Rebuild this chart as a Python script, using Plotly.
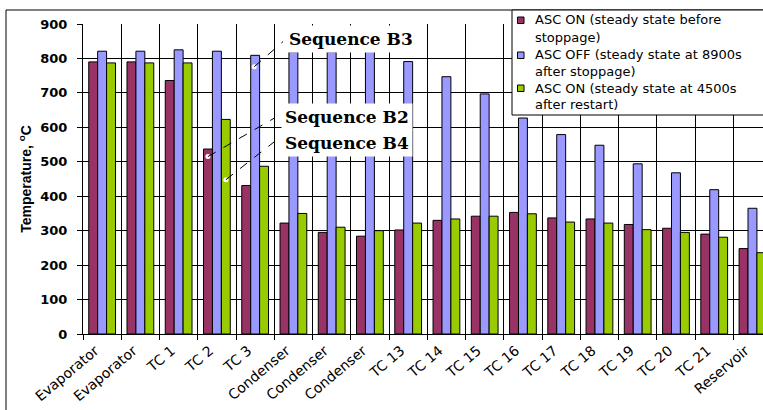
import plotly.graph_objects as go

# Measurement locations along the loop
locations = ["Evaporator", "Evaporator", "TC 1", "TC 2", "TC 3", "Condenser", "Condenser",
             "Condenser", "TC 13", "TC 14", "TC 15", "TC 16", "TC 17", "TC 18", "TC 19",
             "TC 20", "TC 21", "Reservoir"]

# Temperatures (°C)
asc_on_before = [790, 790, 736, 537, 431, 322, 295, 284, 302, 330, 342, 353, 337, 334, 318, 307, 290, 248]
asc_off_8900 = [821, 821, 825, 821, 809, 819, 819, 821, 791, 747, 697, 627, 579, 548, 494, 468, 419, 365]
asc_on_4500 = [787, 787, 787, 623, 487, 350, 310, 300, 322, 334, 342, 349, 325, 322, 303, 295, 281, 236]

series_names = ["ASC ON (steady state before stoppage)",
                "ASC OFF (steady state at 8900s after stoppage)",
                "ASC ON (steady state at 4500s after restart)"]
legend_lines = [["ASC ON (steady state before", "stoppage)"],
                ["ASC OFF (steady state at 8900s", "after stoppage)"],
                ["ASC ON (steady state at 4500s", "after restart)"]]
series_colors = ["#993366", "#9999FF", "#99CC00"]
series_values = [asc_on_before, asc_off_8900, asc_on_4500]

# Callout labels: (text, text position, pointed-to bar position, line end)
callouts = [
    ("Sequence B3", (6.51, 857), (3.976, 776), (4.73, 849)),
    ("Sequence B2", (6.41, 631), (2.765, 515), (4.52, 628)),
    ("Sequence B4", (6.41, 555), (3.235, 448), (4.50, 558)),
]

W, H = 763, 410
ML, MT, MB = 83, 24, 76
PW, PH = W - ML, H - MT - MB


def px_x(px):
    return (px - ML) / PW


def px_y(py):
    return 1 - (py - MT) / PH


x_pos = list(range(len(locations)))
boundaries = [i - 0.5 for i in range(len(locations) + 1)]
x_range = [-0.5, 17.5 - (771.6 - 763) / 38.27]

fig = go.Figure()
for name, color, vals in zip(series_names, series_colors, series_values):
    fig.add_trace(go.Bar(
        x=x_pos, y=vals, name=name, showlegend=False,
        marker=dict(color=color, line=dict(color="black", width=1)),
    ))

# category labels live on an overlaid axis so the main axis can carry boundary gridlines
fig.add_trace(go.Scatter(x=x_pos, y=[None] * len(x_pos), xaxis="x2", yaxis="y",
                         mode="markers", showlegend=False, hoverinfo="skip"))

# white dots on the referenced bars
fig.add_trace(go.Scatter(
    x=[c[2][0] for c in callouts], y=[c[2][1] for c in callouts], mode="markers",
    marker=dict(color="white", size=5), showlegend=False, hoverinfo="skip",
))

for text, (tx, ty), (px, py), (ex, ey) in callouts:
    fig.add_shape(type="line", x0=px, y0=py, x1=ex, y1=ey, xref="x", yref="y",
                  line=dict(color="black", width=1, dash="dash"))
    fig.add_annotation(x=tx, y=ty, xref="x", yref="y", text=text, showarrow=False,
                       font=dict(family="DejaVu Serif", size=17, color="black", weight="bold"),
                       bgcolor="white", borderpad=3)

# outer chart frame
fig.add_shape(type="rect", xref="paper", yref="paper",
              x0=px_x(6), x1=px_x(W + 20), y0=px_y(H + 20), y1=px_y(10),
              line=dict(color="black", width=1), fillcolor="rgba(0,0,0,0)", layer="below")

# legend box
fig.add_shape(type="rect", xref="paper", yref="paper",
              x0=px_x(512), x1=px_x(W + 20), y0=px_y(115), y1=px_y(10),
              line=dict(color="black", width=1), fillcolor="white", layer="above")
line_y = [20, 37, 55, 71, 88, 104]
for i, (color, lines) in enumerate(zip(series_colors, legend_lines)):
    y1, y2 = line_y[2 * i], line_y[2 * i + 1]
    fig.add_shape(type="rect", xref="paper", yref="paper",
                  x0=px_x(517.5), x1=px_x(524), y0=px_y(y1 + 3.5), y1=px_y(y1 - 3),
                  line=dict(color="black", width=1), fillcolor=color, layer="above")
    for txt, yy in zip(lines, (y1, y2)):
        fig.add_annotation(x=px_x(533), y=px_y(yy), xref="paper", yref="paper",
                           xanchor="left", yanchor="middle", text=txt, showarrow=False,
                           font=dict(family="DejaVu Sans", size=13, color="black"))

fig.update_layout(
    width=W, height=H,
    margin=dict(l=ML, r=0, t=MT, b=MB, autoexpand=False),
    paper_bgcolor="white", plot_bgcolor="white",
    barmode="group", bargap=0.3, bargroupgap=0,
    showlegend=False,
    font=dict(family="DejaVu Sans", color="black"),
    xaxis=dict(
        range=x_range, tickmode="array", tickvals=boundaries, showticklabels=False,
        ticks="outside", ticklen=5, tickcolor="black",
        showgrid=True, gridcolor="black", gridwidth=1, zeroline=False,
        showline=True, linecolor="black", linewidth=1,
    ),
    xaxis2=dict(
        overlaying="x", anchor="y", side="bottom", range=x_range,
        tickmode="array", tickvals=x_pos, ticktext=locations, tickangle=-40,
        ticks="", showgrid=False, zeroline=False, showline=False,
        ticklabelshift=-7, ticklabelstandoff=5,
        tickfont=dict(family="DejaVu Sans", size=14, color="black"),
    ),
    yaxis=dict(
        range=[0, 900], dtick=100, ticks="outside", ticklen=5, tickcolor="black",
        showgrid=True, gridcolor="black", gridwidth=1, zeroline=False,
        showline=True, linecolor="black", linewidth=1,
        ticklabelstandoff=7,
        tickfont=dict(family="DejaVu Sans", size=13, color="black", weight="bold"),
        title=dict(text="Temperature, <sup>o</sup>C", standoff=5,
                   font=dict(family="Liberation Sans", size=14, color="black", weight="bold")),
    ),
)

fig.write_html("out.html")
